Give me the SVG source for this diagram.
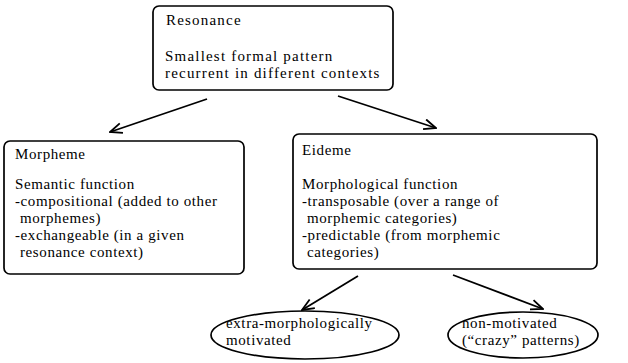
<svg xmlns="http://www.w3.org/2000/svg" width="628" height="363" viewBox="0 0 628 363">
<style>
.box{fill:#fff;stroke:#000;stroke-width:1.7}
.t{font-family:"Liberation Serif","Times New Roman",serif;font-size:15px;letter-spacing:0.6px;fill:#000}
.tt{letter-spacing:1.2px}
.c{fill:none;stroke:#000;stroke-width:1.8}
</style>
<defs>
<marker id="ah" viewBox="0 0 14 12" refX="13" refY="6" markerWidth="14" markerHeight="12" markerUnits="userSpaceOnUse" orient="auto">
<path d="M1,1 L13,6 L1,11" fill="none" stroke="#000" stroke-width="1.8"/>
</marker>
</defs>
<rect width="628" height="363" fill="#fff"/>
<g id="connectors">
<line class="c" x1="207" y1="99" x2="110" y2="132" marker-end="url(#ah)"/>
<line class="c" x1="338" y1="96" x2="436" y2="128" marker-end="url(#ah)"/>
<line class="c" x1="358" y1="276" x2="302" y2="310" marker-end="url(#ah)"/>
<line class="c" x1="453" y1="275" x2="543" y2="309" marker-end="url(#ah)"/>
</g>
<g id="resonance">
<rect class="box" x="153" y="6" width="240" height="84" rx="6"/>
<text class="t tt" x="166" y="25">Resonance</text>
<text class="t tt" x="165" y="61">Smallest formal pattern</text>
<text class="t tt" x="165" y="78">recurrent in different contexts</text>
</g>
<g id="morpheme">
<rect class="box" x="4" y="141" width="240" height="133" rx="6"/>
<text class="t" x="15" y="159">Morpheme</text>
<text class="t" x="15" y="189">Semantic function</text>
<text class="t" x="15" y="206">-compositional (added to other</text>
<text class="t" x="20" y="223">morphemes)</text>
<text class="t" x="15" y="240">-exchangeable (in a given</text>
<text class="t" x="20" y="257">resonance context)</text>
</g>
<g id="eideme">
<rect class="box" x="293" y="134" width="304" height="135" rx="6"/>
<text class="t" x="302" y="155">Eideme</text>
<text class="t" x="302" y="189">Morphological function</text>
<text class="t" x="302" y="206">-transposable (over a range of</text>
<text class="t" x="307" y="223">morphemic categories)</text>
<text class="t" x="302" y="240">-predictable (from morphemic</text>
<text class="t" x="307" y="257">categories)</text>
</g>
<g id="extra-morph">
<ellipse class="box" cx="305" cy="335" rx="94" ry="24"/>
<text class="t" x="226" y="328">extra-morphologically</text>
<text class="t" x="226" y="345">motivated</text>
</g>
<g id="non-motivated">
<ellipse class="box" cx="523" cy="335" rx="75" ry="23"/>
<text class="t" x="462" y="328">non-motivated</text>
<text class="t" x="462" y="345">(“crazy” patterns)</text>
</g>
</svg>
